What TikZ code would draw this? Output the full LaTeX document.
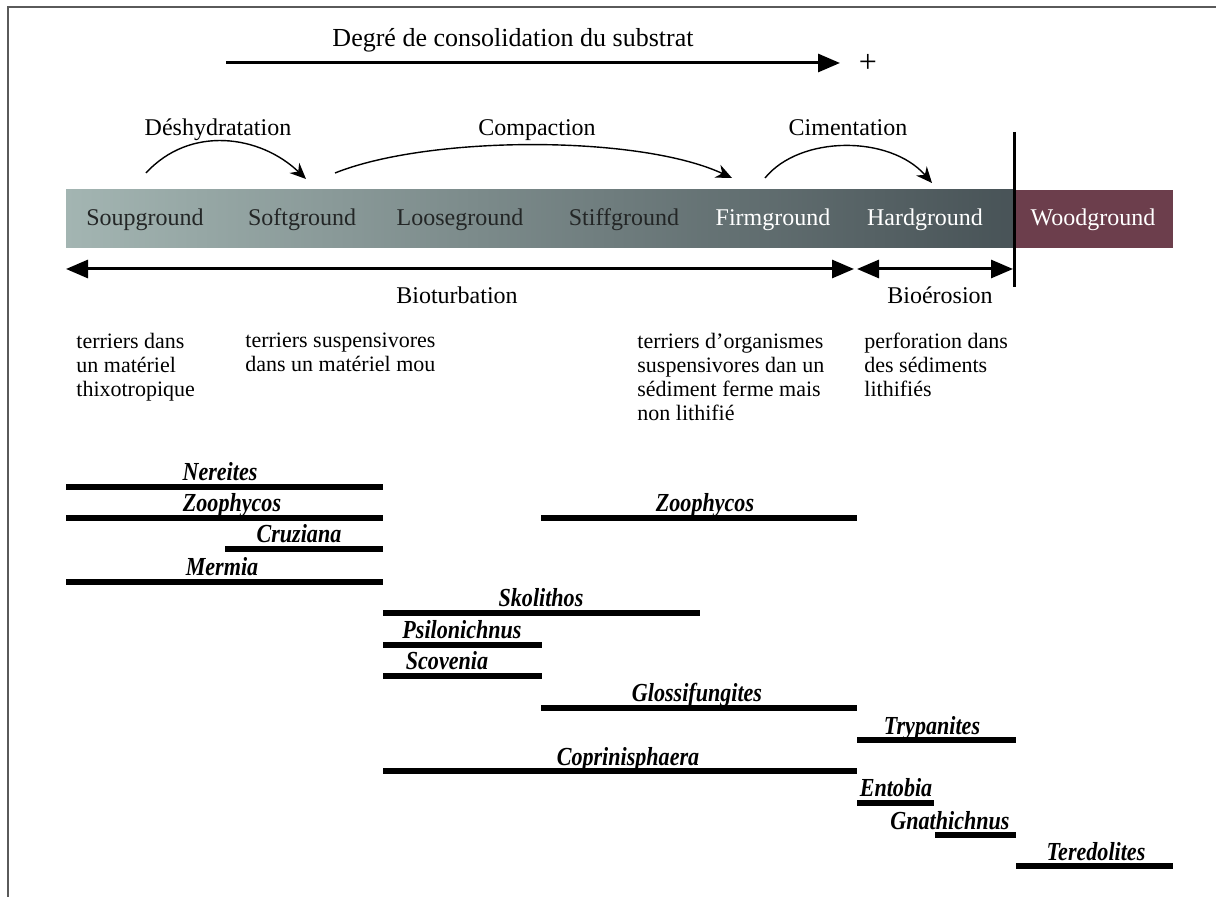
\documentclass[tikz,border=0pt]{standalone}
\usepackage{fontspec}
\setmainfont{Liberation Serif}
\newfontfamily\taxfont{Liberation Serif}[FakeStretch=0.85]
\usetikzlibrary{arrows.meta}
\definecolor{bandlight}{RGB}{163,181,178}
\definecolor{banddark}{RGB}{72,83,87}
\definecolor{woodred}{RGB}{108,62,76}
\definecolor{framegrey}{RGB}{90,90,90}
\definecolor{bandtext}{RGB}{35,38,38}

\begin{document}
\begin{tikzpicture}[x=0.5pt,y=-0.5pt,
    txt/.style={font=\fontsize{12}{14}\selectfont,inner sep=0pt,anchor=base},
    desc/.style={font=\fontsize{11}{12}\selectfont,inner sep=0pt,anchor=north west,align=left},
    taxon/.style={font=\taxfont\fontsize{13}{15}\selectfont\bfseries\itshape,inner sep=0pt,anchor=base},
    bar/.style={line width=3pt},
    bigarrow/.style={line width=1.5pt,-{Triangle[length=11pt,width=9pt]}},
    bigdouble/.style={line width=1.5pt,{Triangle[length=11pt,width=9pt]}-{Triangle[length=11pt,width=9pt]}},
    procarrow/.style={line width=0.7pt,-{Stealth[length=8pt,width=7pt]}}]
    \useasboundingbox (0,0) rectangle (1216,897);
    % frame
    \draw[framegrey,line width=1pt] (1216,7) -- (8,7) -- (8,897);
    % title and arrow
    \node[txt,font=\fontsize{13}{15}\selectfont] (title) at (513,47) {Degré de consolidation du substrat};
    \coordinate (degA) at (226,63);
    \coordinate (degB) at (840,63);
    \draw[bigarrow] (degA) -- (degB);
    \node[font=\fontsize{16}{16}\selectfont,inner sep=0pt] (plus) at (868,63) {+};
    % band
    \shade[left color=bandlight,right color=banddark] (66,190) rectangle (1015,248);
    \fill[woodred] (1015,190) rectangle (1173,248);
    \node[txt,text=bandtext] (soup) at (145,226) {Soupground};
    \node[txt,text=bandtext] (soft) at (302,226) {Softground};
    \node[txt,text=bandtext] (loose) at (460,226) {Looseground};
    \node[txt,text=bandtext] (stiff) at (624,226) {Stiffground};
    \node[txt,text=white] (firm) at (773,226) {Firmground};
    \node[txt,text=white] (hard) at (925,226) {Hardground};
    \node[txt,text=white] (wood) at (1093,226) {Woodground};
    % processes
    \node[txt] (deshyd) at (218,136) {Déshydratation};
    \node[txt] (compac) at (537,136) {Compaction};
    \node[txt] (ciment) at (848,136) {Cimentation};
    \coordinate (d0) at (146,173);
    \coordinate (d1) at (306,179);
    \coordinate (c0) at (335,173);
    \coordinate (c1) at (732,178);
    \coordinate (m0) at (765,178);
    \coordinate (m1) at (932,183);
    \draw[procarrow] (d0) .. controls (190,125) and (260,135) .. (d1);
    \draw[procarrow] (c0) .. controls (430,135) and (640,135) .. (c1);
    \draw[procarrow] (m0) .. controls (800,135) and (890,135) .. (m1);
    % separator
    \coordinate (sepTop) at (1014,132);
    \coordinate (sepBot) at (1014,287);
    \draw[line width=1.5pt] (sepTop) -- (sepBot);
    % bioturbation / bioerosion
    \coordinate (bioL) at (66,269);
    \coordinate (bioM) at (854,269);
    \coordinate (bioN) at (857,269);
    \coordinate (bioR) at (1013,269);
    \draw[bigdouble] (bioL) -- (bioM);
    \draw[bigdouble] (bioN) -- (bioR);
    \node[txt] (bioturb) at (457,304) {Bioturbation};
    \node[txt] (bioero) at (940,304) {Bioérosion};
    % descriptions
    \node[desc] (dsoup) at (76,333) {terriers dans\\un matériel\\thixotropique};
    \node[desc] (dsoft) at (245,333) {terriers suspensivores\\dans un matériel mou};
    \node[desc] (dfirm) at (637,333) {terriers d’organismes\\suspensivores dan un\\sédiment ferme mais\\non lithifié};
    \node[desc] (dhard) at (864,333) {perforation dans\\des sédiments\\lithifiés};
    % ichnotaxa ranges
    \foreach \xa/\xb/\row/\lx/\name [count=\k] in {
        66/383/487/220/Nereites, 66/383/518/232/Zoophycos,
        225/383/549/299/Cruziana, 66/383/582/222/Mermia,
        541/857/518/705/Zoophycos, 383/700/613/541/Skolithos,
        383/542/645/462/Psilonichnus, 383/542/676/447/Scovenia,
        541/857/708/697/Glossifungites, 857/1016/740/932/Trypanites,
        383/857/771/628/Coprinisphaera, 857/934/803/896/Entobia,
        935/1016/835/950/Gnathichnus, 1016/1173/866/1096/Teredolites}{
      \draw[bar] (\xa,\row) -- (\xb,\row);
      \node[taxon] (tx\k) at (\lx,\row-6) {\name};
    }
\end{tikzpicture}
\end{document}
